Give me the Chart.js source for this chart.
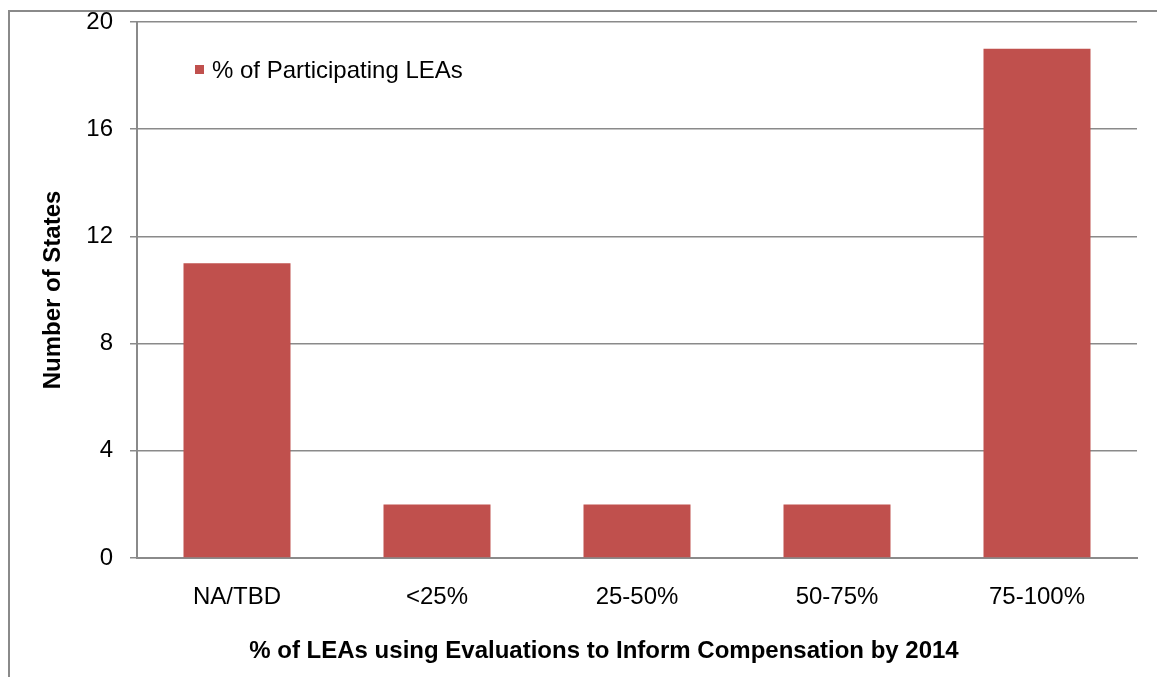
<!DOCTYPE html>
<html>
<head>
<meta charset="utf-8">
<script src="https://cdn.jsdelivr.net/npm/chart.js@4.4.1/dist/chart.umd.min.js"></script>
<style>
  html, body { margin: 0; padding: 0; background: #fff; }
  #wrap { position: relative; width: 1157px; height: 677px; overflow: hidden; }
  #frame { position: absolute; left: 8px; top: 10px; width: 1200px; height: 700px;
           border-left: 2px solid #8a8a8a; border-top: 2px solid #8a8a8a; box-sizing: border-box; }
  canvas { position: absolute; left: 0; top: 0; }
</style>
</head>
<body>
<div id="wrap">
  <div id="frame"></div>
  <canvas id="c" width="1157" height="677"></canvas>
</div>
<script>
const categories = ["NA/TBD", "<25%", "25-50%", "50-75%", "75-100%"];
const seriesName = "% of Participating LEAs";
const seriesValues = [11, 2, 2, 2, 19];
const yTicks = [0, 4, 8, 12, 16, 20];
const xTitle = "% of LEAs using Evaluations to Inform Compensation by 2014";
const yTitle = "Number of States";

const BAR = "#C0504D";
const GRID = "#8a8a8a";
const FONT = "'Liberation Sans', Arial, sans-serif";

const extras = {
  id: 'extras',
  afterDraw(chart) {
    const ctx = chart.ctx;
    const ds = chart.data.datasets[0];
    ctx.save();
    // legend inside plot area
    ctx.fillStyle = ds.backgroundColor;
    ctx.fillRect(195, 65, 9, 9);
    ctx.fillStyle = "#000";
    ctx.font = "24px " + FONT;
    ctx.textBaseline = "middle";
    ctx.textAlign = "left";
    ctx.fillText(ds.label, 212, 71);
    // x axis title
    ctx.font = "bold 24px " + FONT;
    ctx.textAlign = "center";
    ctx.fillText(xTitle, 604, 651);
    ctx.restore();
  }
};

new Chart(document.getElementById('c'), {
  type: 'bar',
  data: {
    labels: categories,
    datasets: [{
      label: seriesName,
      data: seriesValues,
      backgroundColor: BAR,
      borderWidth: 0,
      categoryPercentage: 1.0,
      barPercentage: 0.535
    }]
  },
  options: {
    responsive: false,
    animation: false,
    devicePixelRatio: 1,
    layout: { padding: { top: 22, right: 20, left: 0, bottom: 0 } },
    plugins: {
      legend: { display: false },
      tooltip: { enabled: false }
    },
    scales: {
      x: {
        grid: { display: false, drawTicks: false },
        border: { display: true, color: GRID, width: 2 },
        ticks: { color: "#000", font: { size: 24, family: FONT }, padding: 25, maxRotation: 0 },
        title: { display: false, text: xTitle },
        afterFit(s) { s.height = 677 - 558; s.paddingLeft = 0; s.paddingRight = 0; }
      },
      y: {
        min: 0, max: 20,
        afterBuildTicks(s) { s.ticks = yTicks.map(v => ({ value: v })); },
        grid: { color: GRID, lineWidth: 1.5, drawTicks: true, tickLength: 7, tickColor: GRID },
        border: { display: true, color: GRID, width: 2 },
        ticks: { color: "#000", font: { size: 24, family: FONT }, padding: 17 },
        title: { display: true, text: yTitle, color: "#000",
                 font: { size: 24, weight: 'bold', family: FONT }, padding: { top: 39, bottom: 0 } },
        afterFit(s) { s.width = 137; s.paddingTop = 0; s.paddingBottom = 0; }
      }
    }
  },
  plugins: [extras]
});
</script>
</body>
</html>
